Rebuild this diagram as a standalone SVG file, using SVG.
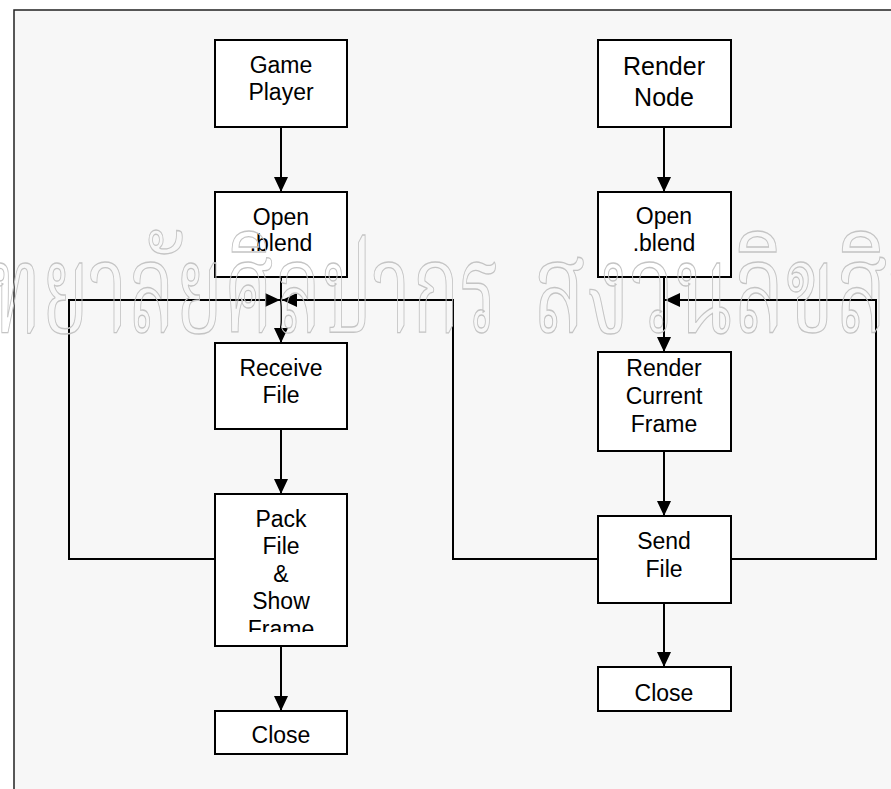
<svg xmlns="http://www.w3.org/2000/svg" width="891" height="789" viewBox="0 0 891 789">
  <defs>
    <style>
      .box { fill: #ffffff; stroke: #000000; stroke-width: 2; }
      .lbl { font-family: "Liberation Sans", Arial, sans-serif; font-size: 23px; fill: #000000; text-anchor: middle; }
      .big { font-size: 25px; }
      .wire { fill: none; stroke: #000000; stroke-width: 2; }
      .wm { font-family: "Noto Serif Thai", "Noto Sans Thai Looped", "Kinnari", "Norasi", "Noto Sans Thai", "Loma", "Garuda", serif; font-size: 125px; fill: none; stroke: #c4c4c4; stroke-width: 1.3; vector-effect: non-scaling-stroke; }
    </style>
    <marker id="arrow" viewBox="0 0 15 14" refX="15" refY="7" markerWidth="15" markerHeight="14" markerUnits="userSpaceOnUse" orient="auto">
      <path d="M0,0 L15,7 L0,14 Z" fill="#000000"/>
    </marker>
    <clipPath id="packClip">
      <rect x="215" y="494" width="132" height="138"/>
    </clipPath>
  </defs>

  <!-- page and frame -->
  <rect x="0" y="0" width="891" height="789" fill="#ffffff"/>
  <rect x="14" y="10" width="900" height="800" fill="#f7f7f7" stroke="#222222" stroke-width="1.5"/>

  <!-- connectors -->
  <g id="connectors">
    <path class="wire" d="M281,127 V192" marker-end="url(#arrow)"/>
    <path class="wire" d="M281,277 V343" marker-end="url(#arrow)"/>
    <path class="wire" d="M281,429 V494" marker-end="url(#arrow)"/>
    <path class="wire" d="M281,646 V711" marker-end="url(#arrow)"/>
    <path class="wire" d="M215,559 H69 V300 H280" marker-end="url(#arrow)"/>
    <path class="wire" d="M598,559 H453 V300 H282" marker-end="url(#arrow)"/>
    <path class="wire" d="M664,127 V192" marker-end="url(#arrow)"/>
    <path class="wire" d="M664,277 V352" marker-end="url(#arrow)"/>
    <path class="wire" d="M731,559 H876 V300 H665" marker-end="url(#arrow)"/>
    <path class="wire" d="M664,451 V516" marker-end="url(#arrow)"/>
    <path class="wire" d="M664,603 V667" marker-end="url(#arrow)"/>
  </g>

  <!-- left column -->
  <g id="game-player">
    <rect class="box" x="215" y="40" width="132" height="87"/>
    <text class="lbl" x="281" y="73">Game</text>
    <text class="lbl" x="281" y="100">Player</text>
  </g>
  <g id="open-blend-left">
    <rect class="box" x="215" y="192" width="132" height="85"/>
    <text class="lbl" x="281" y="225">Open</text>
    <text class="lbl" x="281" y="251">.blend</text>
  </g>
  <g id="receive-file">
    <rect class="box" x="215" y="343" width="132" height="86"/>
    <text class="lbl" x="281" y="376">Receive</text>
    <text class="lbl" x="281" y="403">File</text>
  </g>
  <g id="pack-file">
    <rect class="box" x="215" y="494" width="132" height="152"/>
    <g clip-path="url(#packClip)">
      <text class="lbl" x="281" y="527">Pack</text>
      <text class="lbl" x="281" y="554">File</text>
      <text class="lbl" x="281" y="582">&amp;</text>
      <text class="lbl" x="281" y="609">Show</text>
      <text class="lbl" x="281" y="637">Frame</text>
    </g>
  </g>
  <g id="close-left">
    <rect class="box" x="215" y="711" width="132" height="43"/>
    <text class="lbl" x="281" y="743">Close</text>
  </g>

  <!-- right column -->
  <g id="render-node">
    <rect class="box" x="598" y="40" width="133" height="87"/>
    <text class="lbl big" x="664" y="75">Render</text>
    <text class="lbl big" x="664" y="106">Node</text>
  </g>
  <g id="open-blend-right">
    <rect class="box" x="598" y="192" width="133" height="85"/>
    <text class="lbl" x="664" y="224">Open</text>
    <text class="lbl" x="664" y="251">.blend</text>
  </g>
  <g id="render-current-frame">
    <rect class="box" x="598" y="352" width="133" height="99"/>
    <text class="lbl" x="664" y="376">Render</text>
    <text class="lbl" x="664" y="404">Current</text>
    <text class="lbl" x="664" y="432">Frame</text>
  </g>
  <g id="send-file">
    <rect class="box" x="598" y="516" width="133" height="87"/>
    <text class="lbl" x="664" y="549">Send</text>
    <text class="lbl" x="664" y="577">File</text>
  </g>
  <g id="close-right">
    <rect class="box" x="598" y="667" width="133" height="44"/>
    <text class="lbl" x="664" y="701">Close</text>
  </g>

  <!-- outlined watermark band, condensed horizontally -->
  <g id="watermark" class="wm">
    <text transform="translate(-10,332) scale(0.635,1)">ทยาลัยศิลปากร</text>
    <text transform="translate(533,332) scale(0.70,1)">สงวนลิขสิทธิ์</text>
  </g>
</svg>
